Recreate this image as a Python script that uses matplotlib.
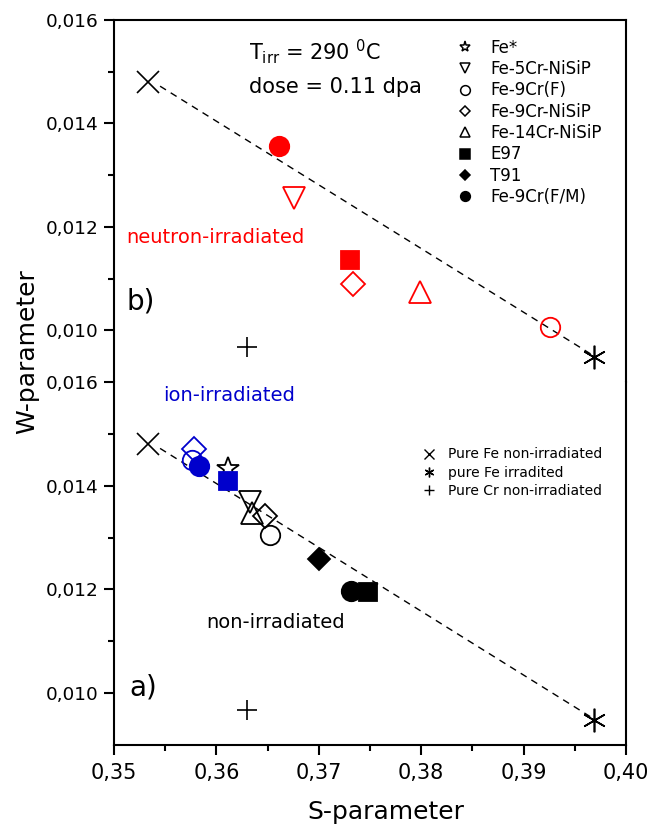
import matplotlib.pyplot as plt
from matplotlib.lines import Line2D
from matplotlib.ticker import FixedLocator, FuncFormatter

plt.rcParams['font.family'] = ['DejaVu Sans']
plt.rcParams['mathtext.fontset'] = 'dejavusans'

# ---- data ----
samples = ["Fe*", "Fe-5Cr-NiSiP", "Fe-9Cr(F)", "Fe-9Cr-NiSiP",
           "Fe-14Cr-NiSiP", "E97", "T91", "Fe-9Cr(F/M)"]

# b) neutron-irradiated
neut_names = ["Fe-9Cr(F/M)", "Fe-5Cr-NiSiP", "E97", "Fe-9Cr-NiSiP", "Fe-14Cr-NiSiP", "Fe-9Cr(F)"]
neut_s = [0.3661, 0.3676, 0.3730, 0.3733, 0.3799, 0.3926]
neut_w = [0.01356, 0.01256, 0.01136, 0.01089, 0.01074, 0.01006]

# a) non-irradiated
non_names = ["Fe*", "Fe-5Cr-NiSiP", "Fe-14Cr-NiSiP", "Fe-9Cr-NiSiP", "Fe-9Cr(F)", "T91", "Fe-9Cr(F/M)", "E97"]
non_s = [0.3611, 0.3633, 0.3635, 0.3647, 0.3652, 0.3700, 0.3731, 0.3748]
non_w = [0.01433, 0.01368, 0.01348, 0.01341, 0.01305, 0.01258, 0.01197, 0.01195]

# a) ion-irradiated
ion_names = ["Fe-9Cr(F)", "Fe-9Cr-NiSiP", "Fe-9Cr(F/M)", "E97"]
ion_s = [0.3576, 0.3578, 0.3583, 0.3611]
ion_w = [0.01449, 0.01471, 0.01438, 0.01409]

# pure elements (same in both panels)
ref_names = ["Pure Fe non-irradiated", "pure Fe irradited", "Pure Cr non-irradiated"]
ref_s = [0.3533, 0.3969, 0.3630]
ref_w = [0.01480, 0.00949, 0.00968]

fit_s = [0.3545, 0.3969]
fit_w = [0.01472, 0.00950]

x_ticks = [0.35, 0.36, 0.37, 0.38, 0.39, 0.40]
y_ticks = [0.010, 0.012, 0.014, 0.016]

# ---- styles ----
mk = {"Fe*": ("*", False, 17), "Fe-5Cr-NiSiP": ("v", False, 16),
      "Fe-9Cr(F)": ("o", False, 14), "Fe-9Cr-NiSiP": ("D", False, 12.5),
      "Fe-14Cr-NiSiP": ("^", False, 16), "E97": ("s", True, 13.5),
      "T91": ("D", True, 11), "Fe-9Cr(F/M)": ("o", True, 14)}
leg_ms = {"Fe*": 8, "Fe-5Cr-NiSiP": 7, "Fe-9Cr(F)": 7, "Fe-9Cr-NiSiP": 5.5,
          "Fe-14Cr-NiSiP": 7, "E97": 7, "T91": 5.5, "Fe-9Cr(F/M)": 7}
ref_mk = [("x", 16), ((6, 2, 0), 17), ("+", 14)]
RED = "#FF0000"
BLUE = "#0000CC"


def fmt(v, _):
    return f"{v:.3f}".replace(".", ",")


def draw(ax, names, s, w, color):
    for n, x, y in zip(names, s, w):
        m, filled, ms = mk[n]
        ax.plot(x, y, linestyle="none", marker=m, ms=ms, mew=1.3,
                mec=color, mfc=color if filled else "none", zorder=3)


fig = plt.figure(figsize=(6.62, 8.26), dpi=100)
ax_b = fig.add_axes([0.1722, 0.5375, 0.7734, 0.4383])
ax_a = fig.add_axes([0.1722, 0.0980, 0.7734, 0.4395], sharex=ax_b)

for ax in (ax_a, ax_b):
    ax.set_xlim(0.35, 0.40)
    ax.set_ylim(0.009, 0.016)
    ax.yaxis.set_major_locator(FixedLocator(y_ticks))
    ax.yaxis.set_minor_locator(FixedLocator([0.011, 0.013, 0.015]))
    ax.yaxis.set_major_formatter(FuncFormatter(fmt))
    ax.tick_params(which="both", direction="out", width=1.5, labelsize=13.3, pad=4)
    ax.tick_params(which="major", length=7)
    ax.tick_params(which="minor", length=4)
    for sp in ax.spines.values():
        sp.set_linewidth(1.5)
    ax.plot(fit_s, fit_w, color="black", lw=1, dashes=(5, 4), zorder=1)
    for (m, ms), x, y in zip(ref_mk, ref_s, ref_w):
        ax.plot(x, y, linestyle="none", marker=m, ms=ms, mew=1.2, color="black", zorder=2)

ax_b.spines["bottom"].set_visible(False)
ax_b.tick_params(axis="x", which="both", bottom=False, labelbottom=False)
ax_a.spines["top"].set_visible(False)
ax_a.xaxis.set_major_locator(FixedLocator(x_ticks))
ax_a.xaxis.set_minor_locator(FixedLocator([0.355, 0.365, 0.375, 0.385, 0.395]))
ax_a.xaxis.set_major_formatter(FuncFormatter(lambda v, _: f"{v:.2f}".replace(".", ",")))
ax_a.tick_params(axis="x", labelsize=15, pad=6)

draw(ax_b, neut_names, neut_s, neut_w, RED)
draw(ax_a, non_names, non_s, non_w, "black")
draw(ax_a, ion_names, ion_s, ion_w, BLUE)

# legends
h1 = [Line2D([], [], linestyle="none", marker=mk[n][0], ms=leg_ms[n], mew=1.1,
             mec="black", mfc="black" if mk[n][1] else "none") for n in samples]
ax_b.legend(h1, samples, loc="upper left", bbox_to_anchor=(0.67, 0.948), frameon=False,
            fontsize=12, handlelength=1.0, handletextpad=1.0, labelspacing=0.2,
            borderpad=0, borderaxespad=0)
h2 = [Line2D([], [], linestyle="none", marker=m, ms=7, mew=1.0, color="black")
      for m, _ in ref_mk]
ax_a.legend(h2, ref_names, loc="upper left", bbox_to_anchor=(0.6035, 0.82), frameon=False,
            fontsize=10, handlelength=0.8, handletextpad=1.0, labelspacing=0.3,
            borderpad=0, borderaxespad=0)

# annotations
ax_b.text(0.3632, 0.01523, r"T$_{\mathrm{irr}}$ = 290 $^{\mathrm{0}}$C", fontsize=15)
ax_b.text(0.3632, 0.01459, "dose = 0.11 dpa", fontsize=15)
ax_b.text(0.3512, 0.01169, "neutron-irradiated", fontsize=14, color=RED)
ax_b.text(0.3512, 0.01041, "b)", fontsize=20)
ax_a.text(0.3548, 0.01563, "ion-irradiated", fontsize=14, color=BLUE)
ax_a.text(0.3590, 0.01125, "non-irradiated", fontsize=14)
ax_a.text(0.3515, 0.00996, "a)", fontsize=20)

fig.text(386 / 662, 1 - 819 / 826, "S-parameter", fontsize=18, ha="center", va="baseline")
fig.text(27 / 662, 1 - 352 / 826, "W-parameter", fontsize=18, ha="center", va="center",
         rotation=90)

fig.savefig("out.png", dpi=100)
